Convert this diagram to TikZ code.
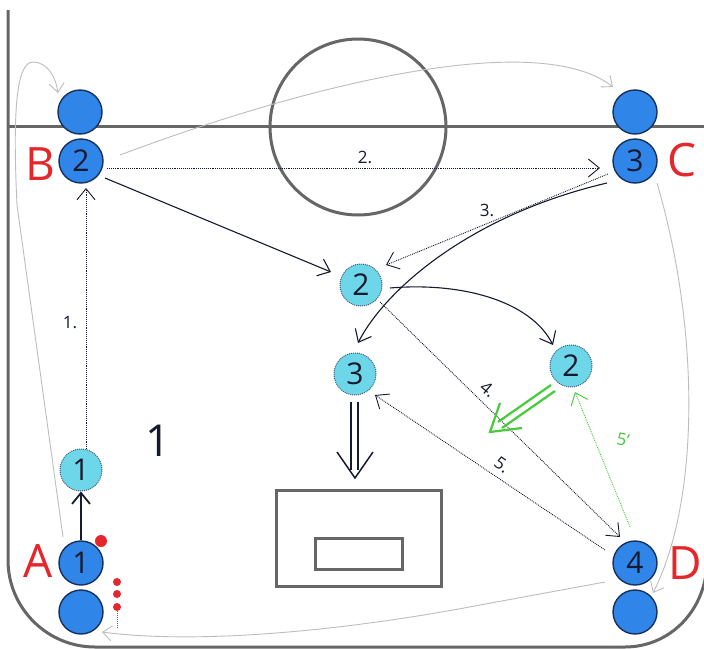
\documentclass[tikz,border=0pt]{standalone}
\usepackage{fontspec}
\setmainfont{Open Sans}
\usetikzlibrary{arrows.meta,calc}
\definecolor{pblue}{HTML}{2F86E8}
\definecolor{pborder}{HTML}{17305C}
\definecolor{pcyan}{HTML}{6DD7E9}
\definecolor{lred}{HTML}{E5262B}
\definecolor{lgreen}{HTML}{45CC3A}
\definecolor{court}{HTML}{666666}
\definecolor{rotgray}{HTML}{BDBDBD}
\definecolor{ink}{HTML}{151A2E}
\begin{document}
\begin{tikzpicture}[x=1pt,y=-1pt,
  player/.style={circle,fill=pblue,draw=pborder,line width=1.4pt,minimum size=44pt,inner sep=0pt,text=ink,font=\fontsize{30}{30}\selectfont},
  ghost/.style={circle,fill=pcyan,draw=pborder!80,densely dotted,line width=1pt,minimum size=42pt,inner sep=0pt,text=ink,font=\fontsize{30}{30}\selectfont},
  letter/.style={text=lred,font=\fontsize{46}{46}\selectfont},
  steplabel/.style={text=ink,font=\fontsize{17}{17}\selectfont,inner sep=1pt},
  barb/.style={-{Straight Barb[length=11pt,width=18pt]}},
  pass/.style={barb,densely dotted,line width=0.9pt,draw=ink},
  run/.style={barb,line width=1.1pt,draw=ink},
  rotation/.style={-{Straight Barb[length=9pt,width=15pt]},draw=rotgray,line width=0.9pt},
  courtline/.style={draw=court,line width=3pt},
  reddot/.style={circle,fill=lred,inner sep=0pt}
]
\fill[white] (0,0) rectangle (704,648);
\useasboundingbox (0,0) rectangle (704,648);

% court
\draw[courtline] (8,10) -- (8,560) .. controls (8,608) and (47,647) .. (95,647) -- (625,647) .. controls (670,647) and (707,610) .. (707,560);
\draw[courtline] (8,126) -- (704,126);
\draw[courtline] (358,127) circle[radius=88pt];
\draw[courtline] (276,490) rectangle (441,586);
\draw[courtline] (315,538) rectangle (402,569);

% players
\node[player] (Btop) at (80,112) {};
\node[player] (B2) at (81,161) {2};
\node[player] (Ctop) at (635,112) {};
\node[player] (C3) at (635,161) {3};
\node[player] (A1) at (81,563) {1};
\node[player] (Abot) at (81,612) {};
\node[player] (D4) at (635,563) {4};
\node[player] (Dbot) at (635,612) {};
\node[ghost] (g1) at (81,470) {1};
\node[ghost] (g2) at (361,285) {2};
\node[ghost] (g2r) at (571,366) {2};
\node[ghost] (g3) at (355,374) {3};

% letters
\node[letter] (la) at (38,561) {A};
\node[letter] (lb) at (40,164) {B};
\node[letter] (lc) at (682,160) {C};
\node[letter] (ld) at (685,563) {D};

% red dots
\node[reddot,minimum size=12pt] (rd) at (101,541) {};
\node[reddot,minimum size=8pt] (rd1) at (117,582) {};
\node[reddot,minimum size=8pt] (rd2) at (117,594) {};
\node[reddot,minimum size=8pt] (rd3) at (117,607) {};
\coordinate (rdend) at (117,628);
\draw[lred,densely dotted,line width=1pt] (rd3) -- (rdend);

% middle label
\node[text=ink,font=\fontsize{44}{44}\selectfont] (one) at (158,441) {1};

% rotation
\draw[rotation] ($(A1)+(-18,-26)$) -- (17,205) .. controls (13,120) and (15,62) .. (33,62) .. controls (48,62) and (56,78) .. ($(Btop)+(-22,-19)$);
\draw[rotation] ($(B2)+(39,-6)$) .. controls (320,80) and (540,30) .. ($(Ctop)+(-22,-25)$);
\draw[rotation] ($(C3)+(22,22)$) .. controls (700,330) and (700,500) .. ($(Dbot)+(18,-19)$);
\draw[rotation] ($(D4)+(-30,19)$) -- (480,605) .. controls (350,630) and (200,645) .. ($(Abot)+(21,20)$);

% moves
\draw[run,line width=1.8pt] (A1) -- (g1);
\draw[pass] ($(g1)+(5,-21)$) -- ($(B2)+(5,27)$);
\node[steplabel] (l1) at (70,323) {1.};
\draw[pass] ($(B2)+(26,7)$) -- ($(C3)+(-35,7)$);
\node[steplabel] (l2) at (365,157) {2.};
\draw[run] ($(B2)+(24,17)$) -- ($(g2)+(-30,-13)$);
\draw[pass] ($(C3)+(-27,13)$) -- ($(g2)+(25,-20)$);
\node[steplabel] (l3) at (487,210) {3.};
\draw[run] ($(C3)+(-28,22)$) .. controls (470,215) and (385,290) .. ($(g3)+(3,-31)$);
\draw[run] ($(g2)+(29,3)$) .. controls (460,282) and (530,300) .. ($(g2r)+(-18,-21)$);
\draw[pass] ($(g2)+(19,17)$) -- ($(D4)+(-15,-26)$);
\node[steplabel,rotate=-40] (l4) at (488,389) {4.};
\draw[pass] ($(D4)+(-30,-13)$) -- ($(g3)+(20,21)$);
\node[steplabel,rotate=-35] (l5) at (502,465) {5.};
\draw[pass,draw=lgreen] ($(D4)+(-5,-36)$) -- ($(g2r)+(4,26)$);
\node[steplabel,text=lgreen,rotate=-10] (l5p) at (623,440) {5'};

% double arrows
\draw[ink,line width=1.5pt] ($(g3)+(-4,28)$) -- ($(g3)+(-4,96)$);
\draw[ink,line width=1.5pt] ($(g3)+(3,28)$) -- ($(g3)+(3,96)$);
\draw[ink,line width=1.5pt,line join=miter] ($(g3)+(-18,78)$) -- ($(g3)+(0,104)$) -- ($(g3)+(18,78)$);
\draw[lgreen,line width=2.2pt] ($(g2r)+(-16,25)$) -- ($(g2r)+(-69,62)$);
\draw[lgreen,line width=2.2pt] ($(g2r)+(-20,19)$) -- ($(g2r)+(-73,56)$);
\draw[lgreen,line width=2.2pt,line join=miter] ($(g2r)+(-49,62)$) -- ($(g2r)+(-81,66)$) -- ($(g2r)+(-71,37)$);
\end{tikzpicture}
\end{document}
